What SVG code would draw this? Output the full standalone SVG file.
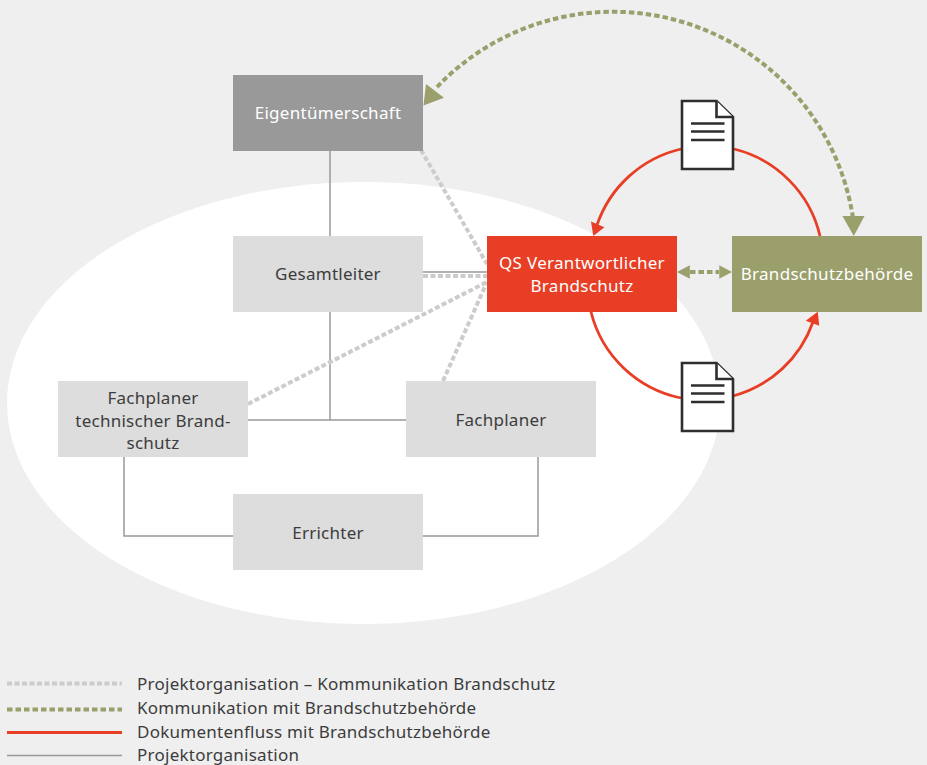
<svg xmlns="http://www.w3.org/2000/svg" width="927" height="765" viewBox="0 0 927 765">
<style>
text{font-family:"Noto Sans","Open Sans","Liberation Sans",sans-serif;font-size:17px;letter-spacing:.25px;fill:#3c3c3c}
.c{text-anchor:middle}
.w{fill:#fff;letter-spacing:.3px}
.box{fill:#dcdddc}
.org{stroke:#999;stroke-width:1.5;fill:none}
.pk{stroke:#ccc;stroke-width:4;stroke-dasharray:5 2.5;fill:none}
.gr{stroke:#9a9f6c;stroke-width:4;stroke-dasharray:5.5 3;fill:none}
.rd{stroke:#e83e25;stroke-width:2.800;fill:none}
.ga{fill:#9a9f6c}.ra{fill:#e83e25}
.doc{fill:#fff;stroke:#2e2e2e;stroke-width:2.600;stroke-linejoin:miter}
.dl{stroke:#2e2e2e;stroke-width:2.400;fill:none}
</style>
<defs>
<g id="docicon">
<path class="doc" d="M682 101H716.500L733 117V169H682Z"/>
<path class="doc" d="M716.500 101V117H733"/>
<path class="dl" d="M691 123.500H724.500M691 131.500H724.500M691 140H724.500"/>
</g>
</defs>
<rect width="927" height="765" fill="#efefef"/>
<ellipse cx="363.500" cy="403" rx="356.500" ry="221" fill="#fff"/>
<g id="connectors">
<path class="org" d="M330 151V236M330 312V420M248 420H406M124 457V536H233M423 536H538V457M423 272H487"/>
<path class="pk" d="M421 150L487 264M423 276H487M248 404L487 282M443 381L487 282"/>
<path class="gr" d="M437 87A243 243 0 0 1 853 218M690 272H719"/>
<path class="rd" d="M681 149A117 117 0 0 0 597 225M734 149A117 117 0 0 1 820 236M591 312A117 117 0 0 0 681 398M733 396A117 117 0 0 0 813 322"/>
<polygon class="ga" points="423.500,105.500 426,84 444,97.700"/>
<polygon class="ga" points="853.800,236 842.400,216 864.500,216"/>
<polygon class="ga" points="677,272 689.800,265.300 689.800,278.700"/>
<polygon class="ga" points="732,272 719.300,265.300 719.300,278.700"/>
<polygon class="ra" points="593.300,236 591,221.500 604.400,227.300"/>
<polygon class="ra" points="817.800,311.700 805.700,320.700 819.200,325.700"/>
</g>
<g id="doc1"><use href="#docicon"/></g>
<g id="doc2"><use href="#docicon" y="262"/></g>
<g id="eigentuemerschaft"><rect x="233" y="75" width="190" height="76" fill="#999"/><text class="c w" x="328" y="119">Eigentümerschaft</text></g>
<g id="gesamtleiter"><rect class="box" x="233" y="236" width="190" height="76"/><text class="c" x="328" y="280">Gesamtleiter</text></g>
<g id="qs"><rect x="487" y="236" width="190" height="76" fill="#e83e25"/><text class="c w" x="582" y="269">QS Verantwortlicher</text><text class="c w" x="582" y="292">Brandschutz</text></g>
<g id="behoerde"><rect x="732" y="236" width="190" height="76" fill="#9a9f6c"/><text class="c w" x="827" y="280">Brandschutzbehörde</text></g>
<g id="fachplaner-tb"><rect class="box" x="58" y="381" width="190" height="76"/><text class="c" x="153" y="404">Fachplaner</text><text class="c" x="153" y="427">technischer Brand-</text><text class="c" x="153" y="449">schutz</text></g>
<g id="fachplaner"><rect class="box" x="406" y="381" width="190" height="76"/><text class="c" x="501" y="426">Fachplaner</text></g>
<g id="errichter"><rect class="box" x="233" y="494" width="190" height="76"/><text class="c" x="328" y="539">Errichter</text></g>
<g id="legend">
<path class="pk" d="M7 683.500H122"/>
<path class="gr" d="M7 709.500H122"/>
<path class="rd" d="M7 732.500H122"/>
<path class="org" d="M7 755.500H122"/>
<text x="137" y="690">Projektorganisation – Kommunikation Brandschutz</text>
<text x="137" y="714">Kommunikation mit Brandschutzbehörde</text>
<text x="137" y="738">Dokumentenfluss mit Brandschutzbehörde</text>
<text x="137" y="760.500">Projektorganisation</text>
</g>
</svg>
